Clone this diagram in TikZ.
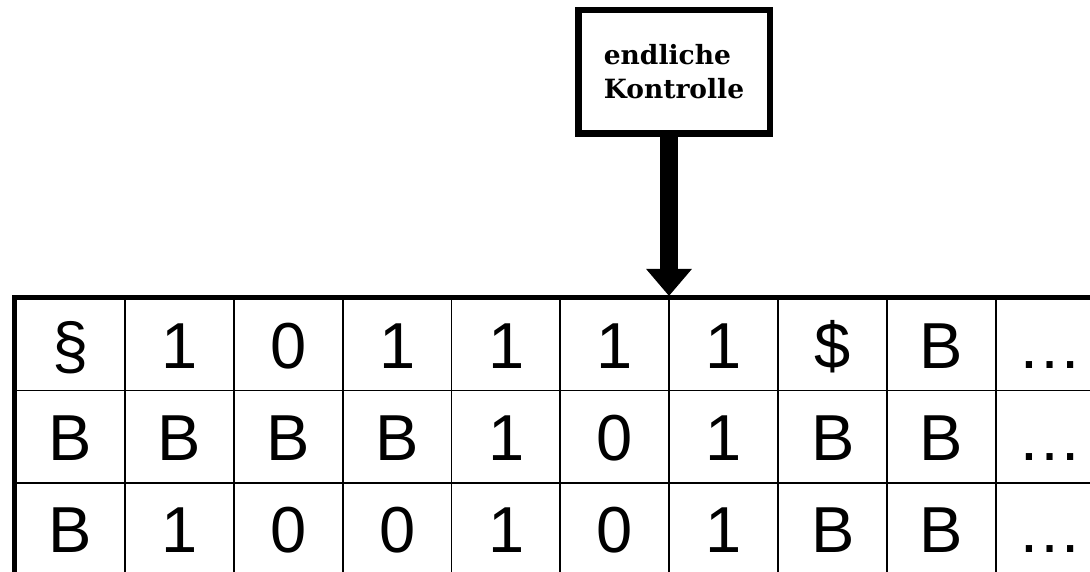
\documentclass[tikz,border=0pt]{standalone}
\usepackage{fontspec}
\setmainfont{Liberation Sans}
\newfontfamily\boxfont{DejaVu Serif}
\usetikzlibrary{arrows.meta}

\tikzset{
  cellsym/.style={font=\fontsize{65}{78}\selectfont, inner sep=0pt, anchor=base},
  thickrule/.style={line width=4.5pt, line cap=rect},
  thinrule/.style={line width=1.8pt},
  ctrlbox/.style={draw, line width=6.5pt, minimum width=191.5pt, minimum height=123.5pt,
    align=left, inner sep=0pt, font=\boxfont\bfseries\fontsize{26.5}{34}\selectfont},
  headarrow/.style={line width=18pt, -{Triangle[width=44pt,length=27pt]}}
}

\begin{document}
\begin{tikzpicture}[x=1pt,y=-1pt]
  \useasboundingbox (0,0) rectangle (1090,572);

  % finite control unit
  \node[ctrlbox] (ctrl) at (674,72) {endliche\\Kontrolle};

  % tape grid
  \foreach \k in {1,...,9} {
    \draw[thinrule] ({16+108.875*\k},298) -- ({16+108.875*\k},572);
  }
  \draw[thinrule] (15,390.5) -- (1090,390.5);
  \draw[thinrule] (15,483) -- (1090,483);
  \draw[thickrule] (14.5,572) -- (14.5,297.5) -- (1092,297.5);

  % tape contents
  \foreach \row [count=\r] in {
      {\S,1,0,1,1,1,1,\$,B,\dots},
      {B,B,B,B,1,0,1,B,B,\dots},
      {B,1,0,0,1,0,1,B,B,\dots}} {
    \foreach \sym [count=\c] in \row {
      \node[cellsym] (cell-\r-\c) at ({70.6+108.875*(\c-1)},{368+92.4*(\r-1)}) {\sym};
    }
  }

  % read/write head
  \coordinate (head) at (669,296);
  \draw[headarrow] (ctrl.south -| head) -- (head);
\end{tikzpicture}
\end{document}
